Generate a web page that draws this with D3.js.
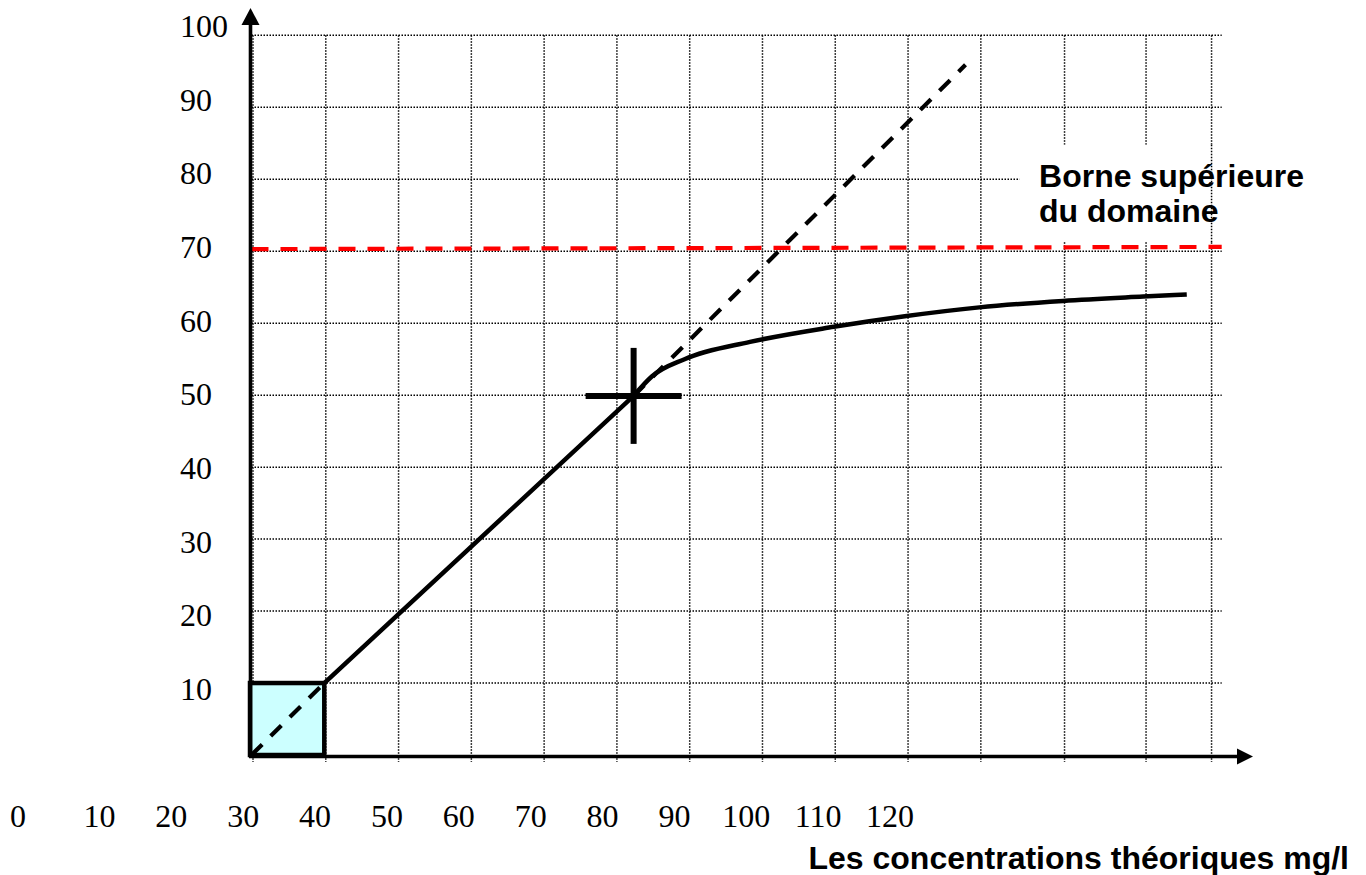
<!DOCTYPE html>
<html>
<head>
<meta charset="utf-8">
<script src="https://cdn.jsdelivr.net/npm/d3@7"></script>
<style>
  html, body { margin: 0; padding: 0; background: #fff; }
  svg { display: block; }
</style>
</head>
<body>
<svg id="chart" width="1366" height="875"></svg>
<script>
// ---- Data ----------------------------------------------------------------
const yTickValues = [10, 20, 30, 40, 50, 60, 70, 80, 90, 100];
const xTickLabels = [0, 10, 20, 30, 40, 50, 60, 70, 80, 90, 100, 110, 120];

// grid lines (x units), the last three columns are wider
const gridX = [0, 10, 20, 30, 40, 50, 60, 70, 80, 90, 100, 111.5, 122.7, 131.7];
const gridY = [10, 20, 30, 40, 50, 60, 70, 80, 90, 100];
const gridXEnd = 133.3;

// lower limit box
const boxX = [0, 10];
const boxY = [0, 10];

// measured response: linear part, then saturating part
const linearX = [10, 52.5];
const linearY = [10, 49.9];
const curveX = [52.5, 55, 59.5, 68.5, 80, 90, 100, 111.5, 122.5, 128.5];
const curveY = [49.9, 52.6, 55.0, 57.4, 59.5, 61.0, 62.2, 63.1, 63.7, 64.0];

// ideal linear response (inside the box, and past the break point)
const idealLowX = [0, 10];
const idealLowY = [0, 10];
const idealHighX = [52.5, 98.1];
const idealHighY = [49.9, 95.9];

// upper bound of the working range
const limitX = [0, 133.3];
const limitY = [70.3, 70.6];

// point where linearity breaks
const breakX = 52.5;
const breakY = 49.9;

const limitLabel = ["Borne supérieure", "du domaine"];
const xTitle = "Les concentrations théoriques mg/l";

// ---- Scales --------------------------------------------------------------
const svg = d3.select("#chart");
const x = d3.scaleLinear().domain([0, 137.6]).range([251.5, 1253]);
const y = d3.scaleLinear().domain([0, 103.8]).range([755, 8]);
// tick label positions (labels are laid out on their own spacing)
const xLab = d3.scaleLinear().domain([0, 10, 120]).range([18, 99.5, 890]);
const yLab = d3.scaleLinear().domain([10, 100]).range([700, 37]);

const serif = "'Liberation Serif', 'Times New Roman', serif";
const sans = "'Liberation Sans', Arial, sans-serif";

// ---- Grid ----------------------------------------------------------------
const dotted = sel => sel
  .attr("stroke", "#000")
  .attr("stroke-width", 1.5)
  .attr("stroke-dasharray", "1.5,1.5")
  .attr("fill", "none");

const grid = svg.append("g").call(dotted);

grid.selectAll("line.h").data(gridY).join("line")
  .attr("class", "h")
  .attr("x1", x(0)).attr("x2", x(gridXEnd))
  .attr("y1", d => y(d)).attr("y2", d => y(d));

grid.selectAll("line.v").data(gridX).join("line")
  .attr("class", "v")
  .attr("x1", d => x(d) + 1.5).attr("x2", d => x(d) + 1.5)
  .attr("y1", y(100)).attr("y2", y(0) + 7);

// label background over the grid
const labelBox = { x0: 105.5, x1: 133.8, y0: 71.3, y1: 84.8 };
svg.append("rect")
  .attr("x", x(labelBox.x0)).attr("y", y(labelBox.y1))
  .attr("width", x(labelBox.x1) - x(labelBox.x0))
  .attr("height", y(labelBox.y0) - y(labelBox.y1))
  .attr("fill", "#fff");

// last column line runs through the label
svg.append("line").call(dotted)
  .attr("x1", x(gridX[gridX.length - 1]) + 1.5).attr("x2", x(gridX[gridX.length - 1]) + 1.5)
  .attr("y1", y(labelBox.y1)).attr("y2", y(labelBox.y0));

svg.append("g")
  .attr("font-family", sans).attr("font-weight", "bold").attr("font-size", 32)
  .selectAll("text").data(limitLabel).join("text")
  .attr("x", x(108.2))
  .attr("y", (d, i) => y(80) + 8 + i * 35)
  .text(d => d);

// ---- Box -----------------------------------------------------------------
svg.append("rect")
  .attr("x", x(boxX[0])).attr("y", y(boxY[1]))
  .attr("width", x(boxX[1]) - x(boxX[0]))
  .attr("height", y(boxY[0]) - y(boxY[1]))
  .attr("fill", "#ccffff");

// ---- Lines ---------------------------------------------------------------
const lineLin = d3.line().x(d => x(d[0])).y(d => y(d[1]));
const lineSmooth = d3.line().x(d => x(d[0])).y(d => y(d[1])).curve(d3.curveMonotoneX);

[[idealLowX, idealLowY], [idealHighX, idealHighY]].forEach(([xs, ys]) => {
  svg.append("path")
    .datum(d3.zip(xs, ys))
    .attr("d", lineLin)
    .attr("fill", "none").attr("stroke", "#000")
    .attr("stroke-width", 4.2).attr("stroke-dasharray", "15,12");
});

svg.append("path")
  .datum(d3.zip(linearX, linearY))
  .attr("d", lineLin)
  .attr("fill", "none").attr("stroke", "#000")
  .attr("stroke-width", 4.5).attr("stroke-linecap", "round");

svg.append("path")
  .datum(d3.zip(curveX, curveY))
  .attr("d", lineSmooth)
  .attr("fill", "none").attr("stroke", "#000")
  .attr("stroke-width", 4.5).attr("stroke-linecap", "butt");

svg.append("path")
  .datum(d3.zip(limitX, limitY))
  .attr("d", lineLin)
  .attr("fill", "none").attr("stroke", "#ff0000")
  .attr("stroke-width", 4.2).attr("stroke-dasharray", "17,12");

// break point marker
const arm = 48;
const cross = svg.append("g").attr("stroke", "#000").attr("stroke-width", 6);
cross.append("line")
  .attr("x1", x(breakX) - arm).attr("x2", x(breakX) + arm)
  .attr("y1", y(breakY)).attr("y2", y(breakY));
cross.append("line")
  .attr("x1", x(breakX)).attr("x2", x(breakX))
  .attr("y1", y(breakY) - arm).attr("y2", y(breakY) + arm);

// ---- Axes ----------------------------------------------------------------
const axes = svg.append("g");
axes.append("line")
  .attr("x1", x(0) - 1).attr("x2", x(0) - 1)
  .attr("y1", y(0) + 2).attr("y2", y(103.8) + 14)
  .attr("stroke", "#000").attr("stroke-width", 3.6);
axes.append("path")
  .attr("d", `M${x(0) - 1},${y(103.8)} L${x(0) + 8},${y(103.8) + 17} L${x(0) - 10},${y(103.8) + 17} Z`)
  .attr("fill", "#000");
axes.append("line")
  .attr("x1", x(0) - 2.5).attr("x2", x(137.6) - 14)
  .attr("y1", y(0) + 1.5).attr("y2", y(0) + 1.5)
  .attr("stroke", "#000").attr("stroke-width", 3.6);
axes.append("path")
  .attr("d", `M${x(137.6)},${y(0) + 1.5} L${x(137.6) - 16},${y(0) - 6.5} L${x(137.6) - 16},${y(0) + 9.5} Z`)
  .attr("fill", "#000");

// box outline on top of the axes
svg.append("rect")
  .attr("x", x(boxX[0]) - 1.5).attr("y", y(boxY[1]))
  .attr("width", x(boxX[1]) - x(boxX[0]) + 1.5)
  .attr("height", y(boxY[0]) - y(boxY[1]))
  .attr("fill", "none").attr("stroke", "#000").attr("stroke-width", 4.5);

// ---- Tick labels ---------------------------------------------------------
svg.append("g")
  .attr("font-family", serif).attr("font-size", 32)
  .selectAll("text").data(yTickValues).join("text")
  .attr("x", 180)
  .attr("y", d => yLab(d))
  .text(d => d);

svg.append("g")
  .attr("font-family", serif).attr("font-size", 32).attr("text-anchor", "middle")
  .selectAll("text").data(xTickLabels).join("text")
  .attr("x", d => xLab(d))
  .attr("y", 827)
  .text(d => d);

svg.append("text")
  .attr("x", 1349).attr("y", 869)
  .attr("text-anchor", "end")
  .attr("font-family", sans).attr("font-weight", "bold").attr("font-size", 32)
  .text(xTitle);
</script>
</body>
</html>
